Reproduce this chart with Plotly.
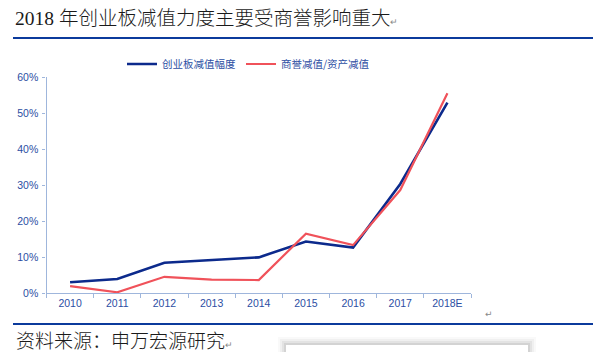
import plotly.graph_objects as go

W, H = 593, 352

years = ["2010", "2011", "2012", "2013", "2014", "2015", "2016", "2017", "2018E"]
gem_impairment = [3.0, 3.9, 8.4, 9.2, 9.9, 14.3, 12.6, 30.3, 52.9]
goodwill_ratio = [1.9, 0.2, 4.5, 3.7, 3.6, 16.5, 13.3, 28.6, 55.5]
series_names = ["创业板减值幅度", "商誉减值/资产减值"]
y_ticks = [0, 10, 20, 30, 40, 50, 60]
y_tick_labels = [f"{v}%" for v in y_ticks]

title_text = "2018 年创业板减值力度主要受商誉影响重大"
source_text = "资料来源：申万宏源研究"

BLUE = "#0c2a8c"
RED = "#f0525a"
AXIS = "#9fb6dc"
LABEL = "#2c4ea3"
RULE = "#0b3a9c"
RET = "<span style='font-family:DejaVu Sans;font-size:9px;color:#888888'>↵</span>"


def px(x):
    return x / W


def py(y):
    return 1 - y / H


fig = go.Figure()
fig.add_trace(go.Scatter(x=years, y=gem_impairment, mode="lines", name=series_names[0],
                         line=dict(color=BLUE, width=2.6)))
fig.add_trace(go.Scatter(x=years, y=goodwill_ratio, mode="lines", name=series_names[1],
                         line=dict(color=RED, width=2.2)))

shapes = []
# top and bottom rules
shapes.append(dict(type="line", xref="paper", yref="paper", x0=px(13), x1=px(593), y0=py(38), y1=py(38),
                   line=dict(color=RULE, width=2.2)))
shapes.append(dict(type="line", xref="paper", yref="paper", x0=px(13), x1=px(593), y0=py(324), y1=py(324),
                   line=dict(color=RULE, width=2.2)))
# faint shadowed box at bottom right
for i, a in enumerate([0.025, 0.035, 0.05, 0.07]):
    d = 8 - 2 * i
    shapes.append(dict(type="rect", xref="paper", yref="paper", x0=px(286 - d), x1=px(528 + d),
                       y0=py(345 - d), y1=py(360), line=dict(width=0), fillcolor=f"rgba(0,0,0,{a})",
                       layer="below"))
shapes.append(dict(type="rect", xref="paper", yref="paper", x0=px(286), x1=px(528),
                   y0=py(345), y1=py(360), line=dict(width=0), fillcolor="white", layer="below"))

annotations = [
    dict(text=title_text + RET, xref="paper", yref="paper", x=px(13), y=py(18), xanchor="left", yanchor="middle",
         showarrow=False, font=dict(family="Liberation Serif, Noto Sans CJK SC", size=19.5, color="#1a1a1a", weight=300)),
    dict(text=source_text + RET, xref="paper", yref="paper", x=px(14), y=py(341), xanchor="left", yanchor="middle",
         showarrow=False, font=dict(family="Liberation Serif, Noto Sans CJK SC", size=19, color="#1a1a1a", weight=300)),
    dict(text="↵", xref="paper", yref="paper", x=px(483), y=py(314), xanchor="left", yanchor="middle",
         showarrow=False, font=dict(family="DejaVu Sans", size=9, color="#888888")),
]

fig.update_layout(
    width=W, height=H,
    margin=dict(l=0, r=0, t=0, b=0),
    paper_bgcolor="white", plot_bgcolor="white",
    shapes=shapes, annotations=annotations,
    showlegend=True,
    legend=dict(orientation="h", x=px(122), y=py(64), xanchor="left", yanchor="middle",
                font=dict(family="Noto Sans CJK SC", size=10.5, color=LABEL),
                bgcolor="rgba(0,0,0,0)", itemwidth=30, tracegroupgap=0),
    xaxis=dict(domain=[px(46.5), px(471)], type="category", range=[-0.5, 8.5],
               showline=True, linecolor=AXIS, linewidth=1.2, showgrid=False, zeroline=False,
               ticks="outside", tickson="boundaries", ticklen=4, tickcolor=AXIS, tickwidth=1,
               tickfont=dict(family="Liberation Sans", size=10.5, color=LABEL), automargin=False),
    yaxis=dict(domain=[py(293), py(77)], range=[0, 60], tickvals=y_ticks, ticktext=y_tick_labels,
               showline=True, linecolor=AXIS, linewidth=1.2, showgrid=False, zeroline=False,
               ticks="outside", ticklen=3, tickcolor=AXIS, tickwidth=1, ticklabelstandoff=2,
               tickfont=dict(family="Liberation Sans", size=10.5, color=LABEL), automargin=False),
)

fig.write_html("out.html")
